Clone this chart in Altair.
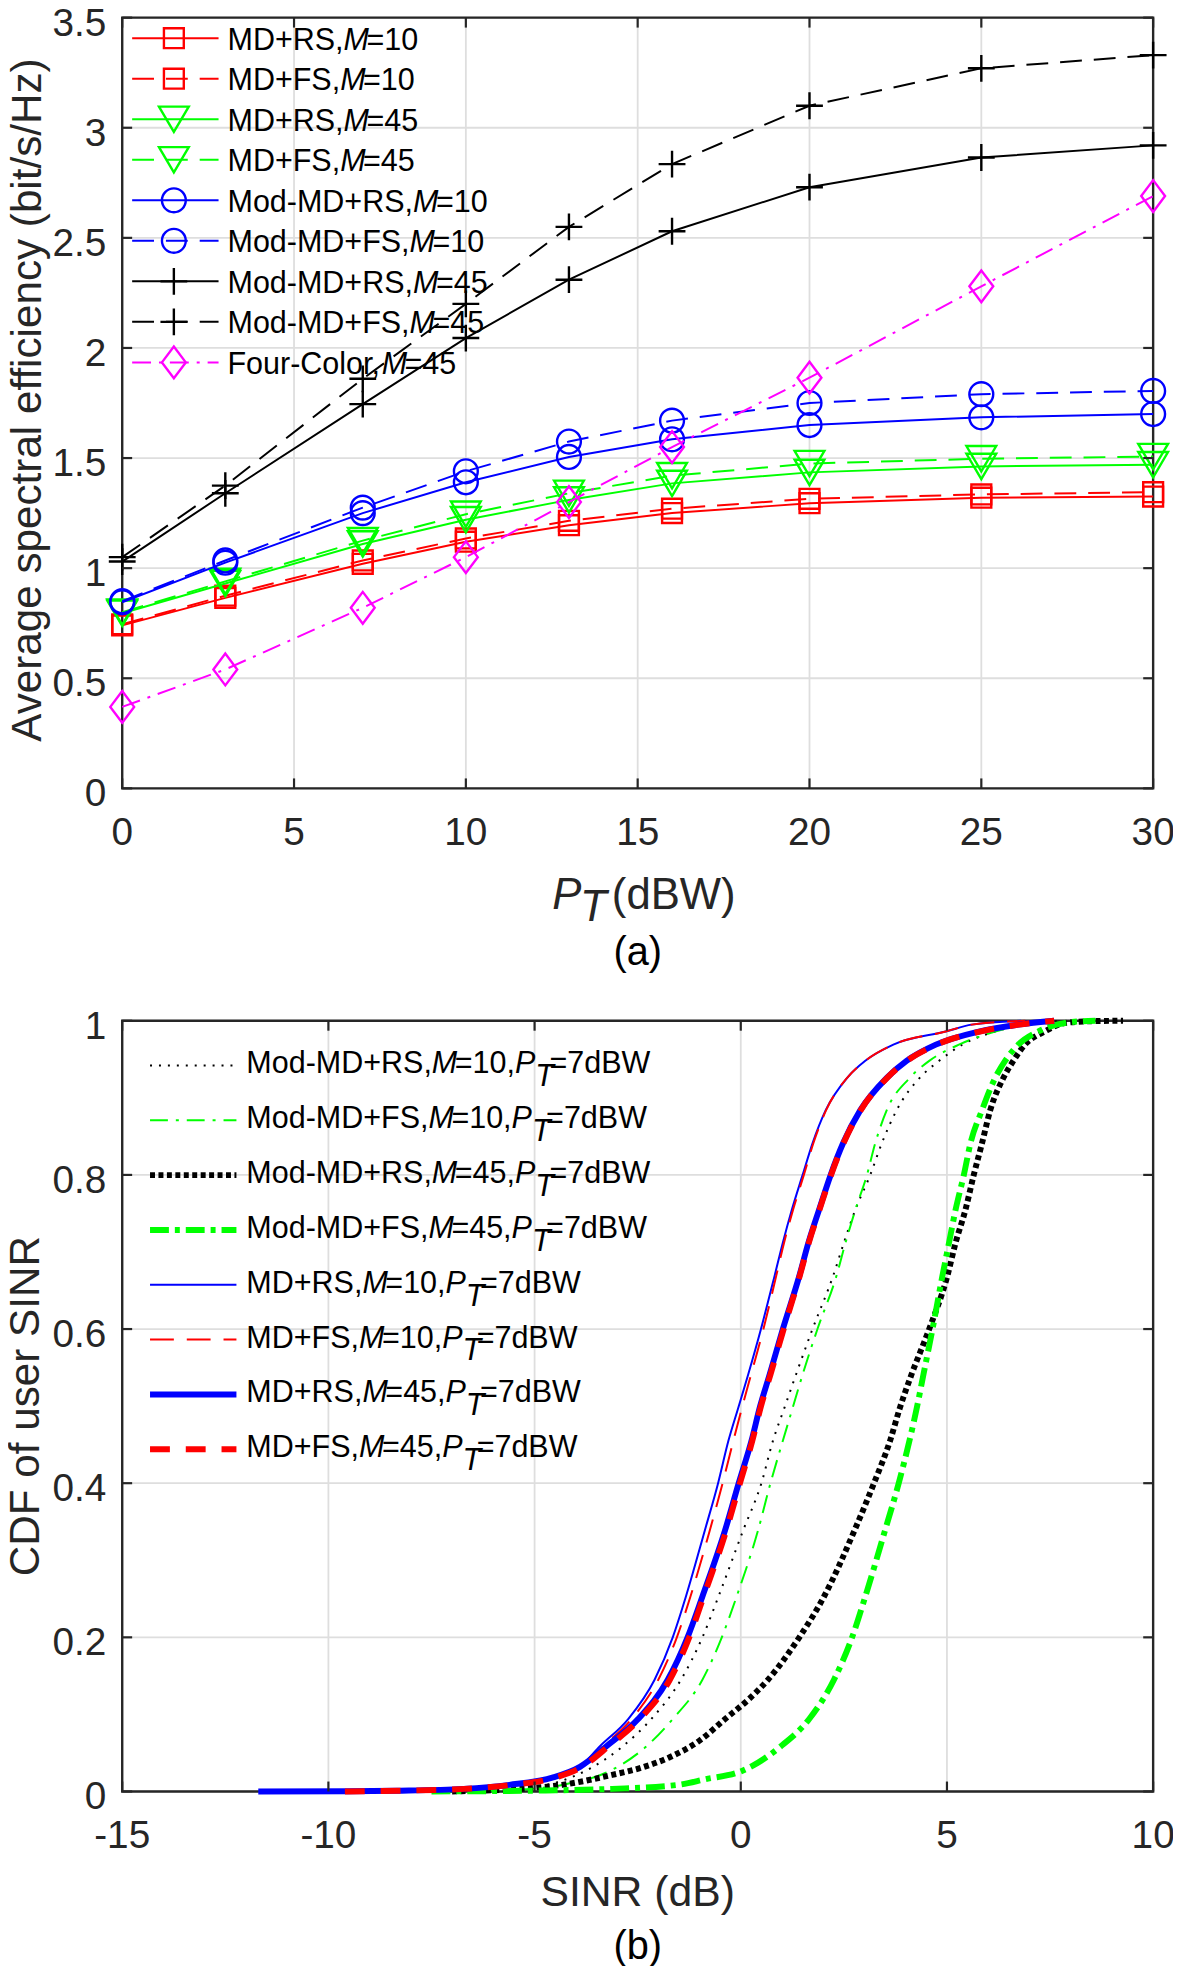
import altair as alt
import pandas as pd

FONT = "Liberation Sans"
INK = "#262626"
GRID = "#dedede"

# ---------------- panel (a) data ----------------
PT_DBW = [0, 3, 7, 10, 13, 16, 20, 25, 30]
MD_RS_M10 = [0.74, 0.865, 1.02, 1.12, 1.195, 1.25, 1.295, 1.32, 1.325]
MD_FS_M10 = [0.745, 0.875, 1.035, 1.135, 1.215, 1.27, 1.315, 1.335, 1.345]
MD_RS_M45 = [0.795, 0.93, 1.11, 1.22, 1.31, 1.385, 1.435, 1.462, 1.47]
MD_FS_M45 = [0.80, 0.94, 1.125, 1.245, 1.34, 1.42, 1.475, 1.497, 1.507]
MODMD_RS_M10 = [0.845, 1.025, 1.25, 1.39, 1.505, 1.585, 1.65, 1.685, 1.70]
MODMD_FS_M10 = [0.85, 1.035, 1.275, 1.44, 1.575, 1.67, 1.75, 1.79, 1.805]
MODMD_RS_M45 = [1.03, 1.34, 1.745, 2.045, 2.31, 2.53, 2.73, 2.865, 2.92]
MODMD_FS_M45 = [1.05, 1.375, 1.86, 2.20, 2.55, 2.835, 3.10, 3.27, 3.33]
FOUR_COLOR_M45 = [0.37, 0.54, 0.82, 1.05, 1.30, 1.55, 1.865, 2.28, 2.69]

TOP_X_TICKS = [0, 5, 10, 15, 20, 25, 30]
TOP_X_LABELS = ["0", "5", "10", "15", "20", "25", "30"]
TOP_Y_TICKS = [0, 0.5, 1, 1.5, 2, 2.5, 3, 3.5]
TOP_Y_LABELS = ["0", "0.5", "1", "1.5", "2", "2.5", "3", "3.5"]
TOP_LABELS = [
    ("MD+RS,", "M", "=10"), ("MD+FS,", "M", "=10"),
    ("MD+RS,", "M", "=45"), ("MD+FS,", "M", "=45"),
    ("Mod-MD+RS,", "M", "=10"), ("Mod-MD+FS,", "M", "=10"),
    ("Mod-MD+RS,", "M", "=45"), ("Mod-MD+FS,", "M", "=45"),
    ("Four-Color,", "M", "=45"),
]
TOP_YTITLE = "Average spectral efficiency (bit/s/Hz)"
TOP_XTITLE = ["P", "T", "(dBW)"]
TOP_CAPTION = "(a)"

# ---------------- panel (b) data ----------------
S_MD_RS_M10 = [-9.6, -8.0, -7.1, -5.7, -4.7, -3.95, -3.41, -2.73, -2.09, -1.65, -1.33, -0.87, -0.55, -0.30, -0.06, 0.18, 0.49, 0.82, 1.02, 1.24, 1.50, 1.74, 2.06, 2.58, 3.02, 3.70, 4.97, 5.60, 6.80]
C_MD_RS_M10 = [0.0, 0.0005, 0.002, 0.0086, 0.017, 0.03, 0.059, 0.094, 0.145, 0.2, 0.253, 0.339, 0.4, 0.455, 0.498, 0.541, 0.6, 0.669, 0.712, 0.755, 0.8, 0.841, 0.884, 0.926, 0.948, 0.969, 0.986, 0.995, 1.0]
S_MD_FS_M10 = [-9.0, -7.8, -7.0, -5.65, -4.65, -3.9, -3.33, -2.65, -2.0, -1.55, -1.22, -0.75, -0.44, -0.18, 0.03, 0.25, 0.55, 0.86, 1.05, 1.27, 1.53, 1.76, 2.07, 2.58, 3.02, 3.70, 4.97, 5.60, 6.90]
C_MD_FS_M10 = [0.0, 0.0005, 0.002, 0.0086, 0.017, 0.03, 0.059, 0.094, 0.145, 0.2, 0.253, 0.339, 0.4, 0.455, 0.498, 0.541, 0.6, 0.669, 0.712, 0.755, 0.8, 0.841, 0.884, 0.926, 0.948, 0.969, 0.986, 0.995, 1.0]
S_MD_RS_M45 = [-11.7, -9.5, -8.34, -6.73, -5.61, -4.57, -3.90, -3.25, -2.49, -1.77, -1.29, -0.93, -0.38, -0.05, 0.26, 0.47, 0.70, 1.02, 1.42, 1.64, 1.90, 2.18, 2.48, 2.90, 3.54, 4.02, 4.73, 5.77, 6.73, 7.60]
C_MD_RS_M45 = [0.0, 0.0002, 0.001, 0.0034, 0.0086, 0.018, 0.032, 0.059, 0.094, 0.145, 0.2, 0.253, 0.339, 0.4, 0.455, 0.5, 0.541, 0.6, 0.669, 0.712, 0.755, 0.8, 0.841, 0.884, 0.926, 0.948, 0.969, 0.986, 0.995, 1.0]
S_MD_FS_M45 = [-9.6, -8.3, -6.7, -5.55, -4.50, -3.85, -3.20, -2.45, -1.72, -1.25, -0.90, -0.35, -0.02, 0.28, 0.49, 0.72, 1.04, 1.43, 1.65, 1.91, 2.19, 2.49, 2.91, 3.55, 4.03, 4.75, 5.80, 6.75, 7.60]
C_MD_FS_M45 = [0.0, 0.001, 0.0034, 0.0086, 0.018, 0.032, 0.059, 0.094, 0.145, 0.2, 0.253, 0.339, 0.4, 0.455, 0.5, 0.541, 0.6, 0.669, 0.712, 0.755, 0.8, 0.841, 0.884, 0.926, 0.948, 0.969, 0.986, 0.995, 1.0]
S_MOD_RS_M10 = [-7.5, -6.3, -5.3, -4.45, -3.65, -2.90, -2.17, -1.45, -0.93, -0.54, 0.06, 0.50, 0.78, 1.06, 1.34, 1.74, 2.24, 2.50, 2.78, 3.14, 3.42, 3.78, 4.34, 4.81, 5.37, 6.17, 6.90, 8.00]
C_MOD_RS_M10 = [0.0, 0.001, 0.004, 0.012, 0.03, 0.057, 0.094, 0.145, 0.2, 0.253, 0.339, 0.4, 0.455, 0.498, 0.541, 0.6, 0.669, 0.712, 0.755, 0.8, 0.841, 0.884, 0.926, 0.948, 0.969, 0.986, 0.995, 1.0]
S_MOD_FS_M10 = [-7.2, -5.5, -4.25, -3.2, -2.3, -1.65, -0.93, -0.46, -0.10, 0.42, 0.72, 1.02, 1.26, 1.50, 1.86, 2.32, 2.54, 2.78, 3.06, 3.26, 3.54, 4.10, 4.57, 5.29, 6.17, 7.13, 7.60]
C_MOD_FS_M10 = [0.0, 0.002, 0.0095, 0.026, 0.058, 0.094, 0.145, 0.2, 0.253, 0.339, 0.4, 0.455, 0.498, 0.541, 0.6, 0.669, 0.712, 0.755, 0.8, 0.841, 0.884, 0.926, 0.948, 0.969, 0.986, 0.998, 1.0]
S_MOD_RS_M45 = [-7.0, -5.53, -4.33, -3.12, -2.4, -1.7, -1.0, -0.38, 0.2, 0.66, 1.42, 2.02, 2.76, 3.23, 3.62, 3.86, 4.14, 4.57, 5.01, 5.21, 5.45, 5.65, 5.85, 6.05, 6.37, 6.61, 6.89, 7.37, 7.85, 8.50, 9.27]
C_MOD_RS_M45 = [0.0, 0.003, 0.0086, 0.0215, 0.031, 0.045, 0.066, 0.094, 0.12, 0.145, 0.2, 0.253, 0.339, 0.4, 0.455, 0.498, 0.541, 0.6, 0.669, 0.712, 0.755, 0.8, 0.841, 0.884, 0.926, 0.948, 0.969, 0.986, 0.997, 0.9995, 1.0]
S_MOD_FS_M45 = [-7.5, -4.73, -3.12, -1.52, -0.85, 0.0, 0.98, 1.66, 2.26, 2.70, 3.02, 3.50, 3.83, 4.09, 4.27, 4.43, 4.65, 4.89, 5.05, 5.21, 5.41, 5.57, 5.85, 6.17, 6.41, 6.73, 7.21, 7.97, 8.60]
C_MOD_FS_M45 = [0.0, 0.0013, 0.0034, 0.0086, 0.016, 0.026, 0.059, 0.094, 0.145, 0.2, 0.253, 0.339, 0.4, 0.455, 0.498, 0.541, 0.6, 0.669, 0.712, 0.755, 0.8, 0.841, 0.884, 0.926, 0.948, 0.969, 0.986, 0.998, 1.0]

BOT_X_TICKS = [-15, -10, -5, 0, 5, 10]
BOT_X_LABELS = ["-15", "-10", "-5", "0", "5", "10"]
BOT_Y_TICKS = [0, 0.2, 0.4, 0.6, 0.8, 1]
BOT_Y_LABELS = ["0", "0.2", "0.4", "0.6", "0.8", "1"]
BOT_LABELS = [
    ("Mod-MD+RS,", "10"), ("Mod-MD+FS,", "10"), ("Mod-MD+RS,", "45"), ("Mod-MD+FS,", "45"),
    ("MD+RS,", "10"), ("MD+FS,", "10"), ("MD+RS,", "45"), ("MD+FS,", "45"),
]
BOT_YTITLE = "CDF of user SINR"
BOT_XTITLE = "SINR (dB)"
BOT_CAPTION = "(b)"

# ---------------- layout / style ----------------
W, H = 1038, 776          # each panel's plot area
OY_B = 1010               # top of panel (b) inside the single view
VIEW_H = 1955
TICK_FS, YT_FS, XT_FS, LEG_FS, CAP_FS = 39, 42.5, 44, 30.7, 40

ARIAL = {'M': 833, 'o': 556, 'd': 556, '-': 333, 'D': 722, '+': 584, 'R': 722, 'S': 667,
         ',': 278, 'F': 611, '=': 584, 'P': 667, 'T': 611, 'B': 667, 'W': 944, 'C': 722,
         'l': 222, 'r': 333, 'u': 556, '(': 333, ')': 333, ' ': 278}


def tw(s, fs):
    return sum(ARIAL.get(c, 556) for c in s) * fs / 1000.0


def place(segs, x0, y0, fs):
    rows, x = [], x0
    for text, it, dy, kern in segs:
        rows.append({"x": x, "y": y0 + dy, "t": text, "it": it})
        x += tw(text, fs) + kern
    return rows


def text_layers(rows, fs, color):
    out = []
    for it in (False, True):
        sub = [r for r in rows if r["it"] == it]
        if not sub:
            continue
        kw = dict(align="left", baseline="alphabetic", font=FONT, fontSize=fs, color=color)
        if it:
            kw["fontStyle"] = "italic"
        out.append(alt.Chart(pd.DataFrame(sub)).mark_text(**kw).encode(
            x=alt.X("x:Q", scale=None, axis=None),
            y=alt.Y("y:Q", scale=None, axis=None),
            text="t:N"))
    return out


ONE = pd.DataFrame({"k": [0]})


def frame_layers(oy, xs, ys, xticks, xlabels, yticks, ylabels):
    """grid, box, tick labels (drawn before the data)"""
    dx = pd.DataFrame({"v": xticks, "lab": xlabels})
    dy = pd.DataFrame({"v": yticks, "lab": ylabels})
    g = dict(color=GRID, strokeWidth=1.8)
    return [
        alt.Chart(dx).mark_rule(**g).encode(x=alt.X("v:Q", scale=xs, axis=None), y=alt.value(oy), y2=alt.value(oy + H)),
        alt.Chart(dy).mark_rule(**g).encode(y=alt.Y("v:Q", scale=ys, axis=None), x=alt.value(0), x2=alt.value(W)),
        alt.Chart(ONE).mark_rect(filled=False, color=INK, strokeWidth=2.4).encode(
            x=alt.value(0), x2=alt.value(W), y=alt.value(oy), y2=alt.value(oy + H)),
        alt.Chart(dx).mark_text(align="center", baseline="alphabetic", font=FONT, fontSize=TICK_FS, color=INK).encode(
            x=alt.X("v:Q", scale=xs, axis=None), y=alt.value(oy + 833), text="lab:N"),
        alt.Chart(dy).mark_text(align="right", baseline="alphabetic", dy=18, font=FONT, fontSize=TICK_FS, color=INK).encode(
            y=alt.Y("v:Q", scale=ys, axis=None), x=alt.value(-16), text="lab:N"),
    ]


def tick_layers(oy, xs, ys, xticks, yticks):
    L = 10
    dx = pd.DataFrame({"v": xticks})
    dy = pd.DataFrame({"v": yticks})
    r = dict(color=INK, strokeWidth=2.2)
    return [
        alt.Chart(dx).mark_rule(**r).encode(x=alt.X("v:Q", scale=xs, axis=None), y=alt.value(oy + H), y2=alt.value(oy + H - L)),
        alt.Chart(dx).mark_rule(**r).encode(x=alt.X("v:Q", scale=xs, axis=None), y=alt.value(oy), y2=alt.value(oy + L)),
        alt.Chart(dy).mark_rule(**r).encode(y=alt.Y("v:Q", scale=ys, axis=None), x=alt.value(0), x2=alt.value(L)),
        alt.Chart(dy).mark_rule(**r).encode(y=alt.Y("v:Q", scale=ys, axis=None), x=alt.value(W), x2=alt.value(W - L)),
    ]


# ================= panel (a) =================
SQUARE, CIRCLE = "square", "circle"
TRI = "M-1,-0.85L1,-0.85L0,0.85Z"
PLUS = "M-1,0L1,0M0,-1L0,1"
DIAM = "M-0.75,0L0,-1L0.75,0L0,1Z"
DASH_A = [22, 12]
DOTDASH_A = [19, 8, 3, 8]

top_series = [
    (MD_RS_M10, "#ff0000", None, SQUARE, 400),
    (MD_FS_M10, "#ff0000", DASH_A, SQUARE, 400),
    (MD_RS_M45, "#00ff00", None, TRI, 900),
    (MD_FS_M45, "#00ff00", DASH_A, TRI, 900),
    (MODMD_RS_M10, "#0000ff", None, CIRCLE, 576),
    (MODMD_FS_M10, "#0000ff", DASH_A, CIRCLE, 576),
    (MODMD_RS_M45, "#000000", None, PLUS, 729),
    (MODMD_FS_M45, "#000000", DASH_A, PLUS, 729),
    (FOUR_COLOR_M45, "#ff00ff", DOTDASH_A, DIAM, 1024),
]

xs_a = alt.Scale(domain=[0, 30], nice=False, zero=False, range=[0, W])
ys_a = alt.Scale(domain=[0, 3.5], nice=False, zero=False, range=[H, 0])

layers_a = frame_layers(0, xs_a, ys_a, TOP_X_TICKS, TOP_X_LABELS, TOP_Y_TICKS, TOP_Y_LABELS)
for vals, color, dash, shape, size in top_series:
    df = pd.DataFrame({"PT": PT_DBW, "val": vals})
    lk = dict(color=color, strokeWidth=2)
    if dash:
        lk["strokeDash"] = dash
    enc = dict(x=alt.X("PT:Q", scale=xs_a, axis=None), y=alt.Y("val:Q", scale=ys_a, axis=None))
    layers_a.append(alt.Chart(df).mark_line(**lk).encode(**enc))
    layers_a.append(alt.Chart(df).mark_point(shape=shape, size=size, filled=False, color=color,
                                             strokeWidth=2.4, opacity=1).encode(**enc))

leg_rows_a = []
for i, ((vals, color, dash, shape, size), (pre, m, post)) in enumerate(zip(top_series, TOP_LABELS)):
    yy = 20.7 + 40.8 * i
    lk = dict(color=color, strokeWidth=2)
    if dash:
        lk["strokeDash"] = dash
    layers_a.append(alt.Chart(ONE).mark_rule(**lk).encode(x=alt.value(10), x2=alt.value(97), y=alt.value(yy)))
    layers_a.append(alt.Chart(ONE).mark_point(shape=shape, size=size, filled=False, color=color,
                                              strokeWidth=2.4, opacity=1).encode(x=alt.value(52), y=alt.value(yy)))
    leg_rows_a += place([(pre, False, 0, 0), (m, True, 0, -2.5), (post, False, 0, 0)], 106, yy + 11.6, LEG_FS)
layers_a += text_layers(leg_rows_a, LEG_FS, "#000000")

# x title of (a): P (italic) + subscript T (italic, lowered) + (dBW)
xt_rows = [
    {"x": 433, "y": 897, "t": TOP_XTITLE[0], "it": True},
    {"x": 461, "y": 910, "t": TOP_XTITLE[1], "it": True},
    {"x": 493, "y": 897, "t": TOP_XTITLE[2], "it": False},
]
layers_a += text_layers(xt_rows, XT_FS, INK)
layers_a.append(alt.Chart(pd.DataFrame({"t": [TOP_YTITLE]})).mark_text(
    angle=270, align="center", baseline="alphabetic", font=FONT, fontSize=YT_FS, color=INK).encode(
    x=alt.value(-82), y=alt.value(H / 2 - 3), text="t:N"))
layers_a.append(alt.Chart(pd.DataFrame({"t": [TOP_CAPTION]})).mark_text(
    align="center", baseline="alphabetic", font=FONT, fontSize=CAP_FS, color="#000000").encode(
    x=alt.value(W / 2), y=alt.value(954), text="t:N"))
layers_a += tick_layers(0, xs_a, ys_a, TOP_X_TICKS, TOP_Y_TICKS)

# ================= panel (b) =================
bot_series = [
    (S_MOD_RS_M10, C_MOD_RS_M10, "#000000", 2, [2, 7]),
    (S_MOD_FS_M10, C_MOD_FS_M10, "#00ff00", 2, [18, 8, 3, 8]),
    (S_MOD_RS_M45, C_MOD_RS_M45, "#000000", 6, [5, 3.5]),
    (S_MOD_FS_M45, C_MOD_FS_M45, "#00ff00", 6, [19, 6, 5, 6]),
    (S_MD_RS_M10, C_MD_RS_M10, "#0000ff", 2, None),
    (S_MD_FS_M10, C_MD_FS_M10, "#ff0000", 2, [24, 13]),
    (S_MD_RS_M45, C_MD_RS_M45, "#0000ff", 6, None),
    (S_MD_FS_M45, C_MD_FS_M45, "#ff0000", 6, [20, 16]),
]
xs_b = alt.Scale(domain=[-15, 10], nice=False, zero=False, range=[0, W])
ys_b = alt.Scale(domain=[0, 1], nice=False, zero=False, range=[OY_B + H, OY_B])

layers_b = frame_layers(OY_B, xs_b, ys_b, BOT_X_TICKS, BOT_X_LABELS, BOT_Y_TICKS, BOT_Y_LABELS)
for s, c, color, wdt, dash in bot_series:
    df = pd.DataFrame({"sinr": s, "cdf": c})
    lk = dict(color=color, strokeWidth=wdt, interpolate="monotone")
    if dash:
        lk["strokeDash"] = dash
    layers_b.append(alt.Chart(df).mark_line(**lk).encode(
        x=alt.X("sinr:Q", scale=xs_b, axis=None), y=alt.Y("cdf:Q", scale=ys_b, axis=None)))

leg_rows_b = []
for i, ((s, c, color, wdt, dash), (pre, m)) in enumerate(zip(bot_series, BOT_LABELS)):
    yy = OY_B + 45 + 55.2 * i
    lk = dict(color=color, strokeWidth=wdt)
    if dash:
        lk["strokeDash"] = dash
    layers_b.append(alt.Chart(ONE).mark_rule(**lk).encode(x=alt.value(28), x2=alt.value(115), y=alt.value(yy)))
    leg_rows_b += place([(pre, False, 0, 0), ("M", True, 0, -2.5), ("=" + m + ",", False, 0, 0),
                         ("P", True, 0, 0), ("T", True, 13, -4.5), ("=7dBW", False, 0, 0)],
                        125, yy + 8, LEG_FS)
layers_b += text_layers(leg_rows_b, LEG_FS, "#000000")

layers_b.append(alt.Chart(pd.DataFrame({"t": [BOT_XTITLE]})).mark_text(
    align="center", baseline="alphabetic", font=FONT, fontSize=XT_FS - 1, color=INK).encode(
    x=alt.value(W / 2), y=alt.value(OY_B + 891), text="t:N"))
layers_b.append(alt.Chart(pd.DataFrame({"t": [BOT_YTITLE]})).mark_text(
    angle=270, align="center", baseline="alphabetic", font=FONT, fontSize=YT_FS, color=INK).encode(
    x=alt.value(-84), y=alt.value(OY_B + H / 2), text="t:N"))
layers_b.append(alt.Chart(pd.DataFrame({"t": [BOT_CAPTION]})).mark_text(
    align="center", baseline="alphabetic", font=FONT, fontSize=CAP_FS, color="#000000").encode(
    x=alt.value(W / 2), y=alt.value(OY_B + 945), text="t:N"))
layers_b += tick_layers(OY_B, xs_b, ys_b, BOT_X_TICKS, BOT_Y_TICKS)

panel_a = alt.layer(*layers_a)
panel_b = alt.layer(*layers_b)

chart = alt.layer(panel_a, panel_b).resolve_scale(x="independent", y="independent").properties(
    width=W, height=VIEW_H,
    autosize=alt.AutoSizeParams(type="none"),
    padding={"left": 115, "top": 3, "right": 20, "bottom": 0},
    background="white",
).configure_view(strokeWidth=0)

chart.save("out.html", embed_options={"renderer": "svg", "actions": False})
